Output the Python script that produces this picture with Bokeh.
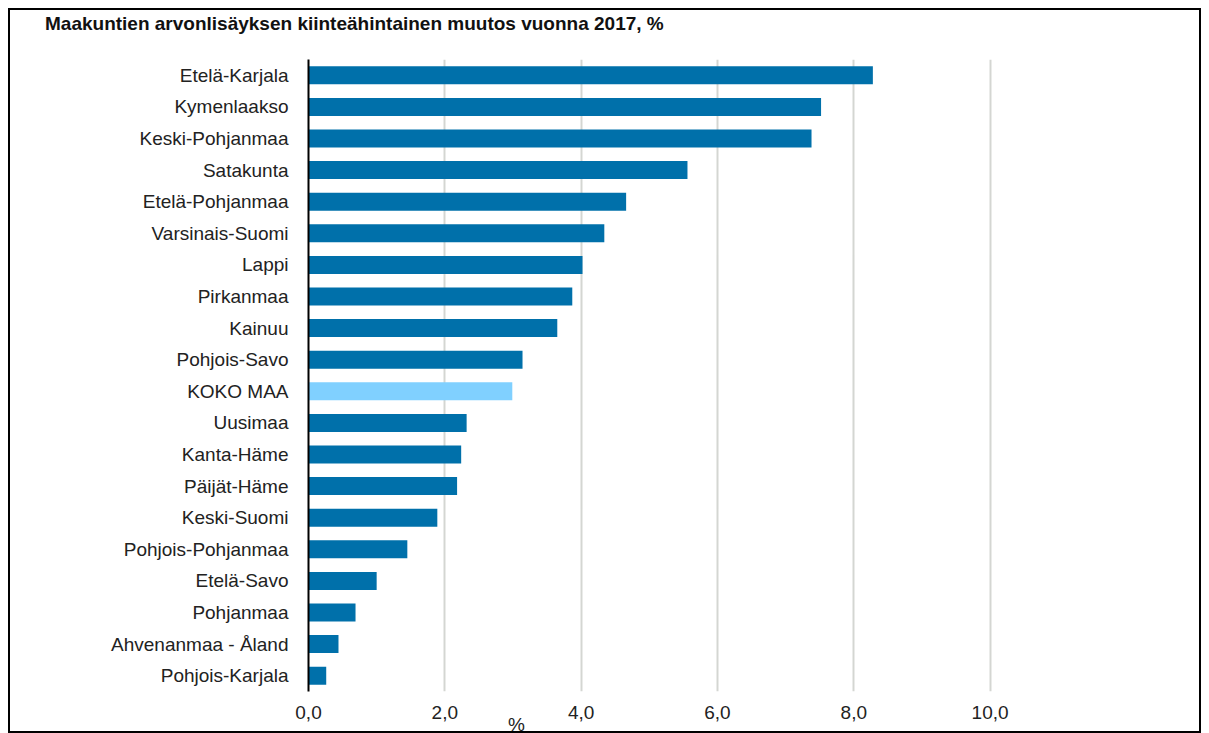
from bokeh.plotting import figure
from bokeh.models import ColumnDataSource, FactorRange, Range1d, FixedTicker, Div
from bokeh.layouts import column
from bokeh.embed import file_html
from bokeh.resources import INLINE

title_text = "Maakuntien arvonlisäyksen kiinteähintainen muutos vuonna 2017, %"
regions = ["Etelä-Karjala", "Kymenlaakso", "Keski-Pohjanmaa", "Satakunta",
           "Etelä-Pohjanmaa", "Varsinais-Suomi", "Lappi", "Pirkanmaa", "Kainuu",
           "Pohjois-Savo", "KOKO MAA", "Uusimaa", "Kanta-Häme", "Päijät-Häme",
           "Keski-Suomi", "Pohjois-Pohjanmaa", "Etelä-Savo", "Pohjanmaa",
           "Ahvenanmaa - Åland", "Pohjois-Karjala"]
values = [8.28, 7.52, 7.38, 5.56, 4.66, 4.34, 4.02, 3.87, 3.65, 3.14,
          2.99, 2.32, 2.24, 2.18, 1.89, 1.45, 1.00, 0.69, 0.44, 0.26]
tick_values = [0, 2, 4, 6, 8, 10]
tick_labels = ["0,0", "2,0", "4,0", "6,0", "8,0", "10,0"]
x_label = "%"
highlight = "KOKO MAA"

DARK = "#0070aa"
LIGHT = "#80d0ff"
FONT = "Liberation Sans"

colors = [LIGHT if r == highlight else DARK for r in regions]
src = ColumnDataSource(dict(region=regions, value=values, color=colors))

title = Div(text=title_text, width=1154, height=28, margin=(0, 0, 0, 35),
            styles={"font-family": FONT, "font-size": "19px", "font-weight": "bold",
                    "line-height": "28px", "color": "#111111", "white-space": "nowrap"})

p = figure(width=1189, height=689, output_backend="svg", toolbar_location=None,
           y_range=FactorRange(factors=list(reversed(regions)), range_padding=0),
           x_range=Range1d(0, 12.5),
           min_border_left=298, min_border_right=39, min_border_top=21, min_border_bottom=36)
p.title.text = ""
p.outline_line_color = None
p.background_fill_color = "white"
p.border_fill_color = "white"

p.hbar(y="region", right="value", left=0, height=0.57, color="color", source=src, line_color=None)

p.ygrid.grid_line_color = None
p.xgrid.ticker = FixedTicker(ticks=tick_values)
p.xgrid.grid_line_color = "#d4d6d2"
p.xgrid.grid_line_width = 2

p.xaxis.ticker = FixedTicker(ticks=tick_values)
p.xaxis.major_label_overrides = {t: l for t, l in zip(tick_values, tick_labels)}
p.xaxis.axis_line_color = None
p.xaxis.major_tick_line_color = None
p.xaxis.minor_tick_line_color = None
p.xaxis.major_tick_out = 0
p.xaxis.major_tick_in = 0
p.xaxis.major_label_standoff = 14
p.xaxis.major_label_text_font = FONT
p.xaxis.major_label_text_font_size = "19px"
p.xaxis.major_label_text_color = "#222222"

p.yaxis.axis_line_color = "black"
p.yaxis.axis_line_width = 2
p.yaxis.major_tick_line_color = None
p.yaxis.minor_tick_line_color = None
p.yaxis.major_tick_out = 0
p.yaxis.major_tick_in = 0
p.yaxis.major_label_standoff = 20
p.yaxis.major_label_text_font = FONT
p.yaxis.major_label_text_font_size = "19px"
p.yaxis.major_label_text_color = "#222222"

pct = Div(text=x_label, width=40, height=16, margin=(-12, 0, 0, 498),
          styles={"font-family": FONT, "font-size": "19px", "line-height": "19px",
                  "color": "#222222"})

layout = column(title, p, pct, spacing=0,
                styles={"border": "2px solid black", "margin-left": "8px", "margin-top": "8px",
                        "background-color": "white"})

open("out.html", "w").write(file_html(layout, INLINE))
